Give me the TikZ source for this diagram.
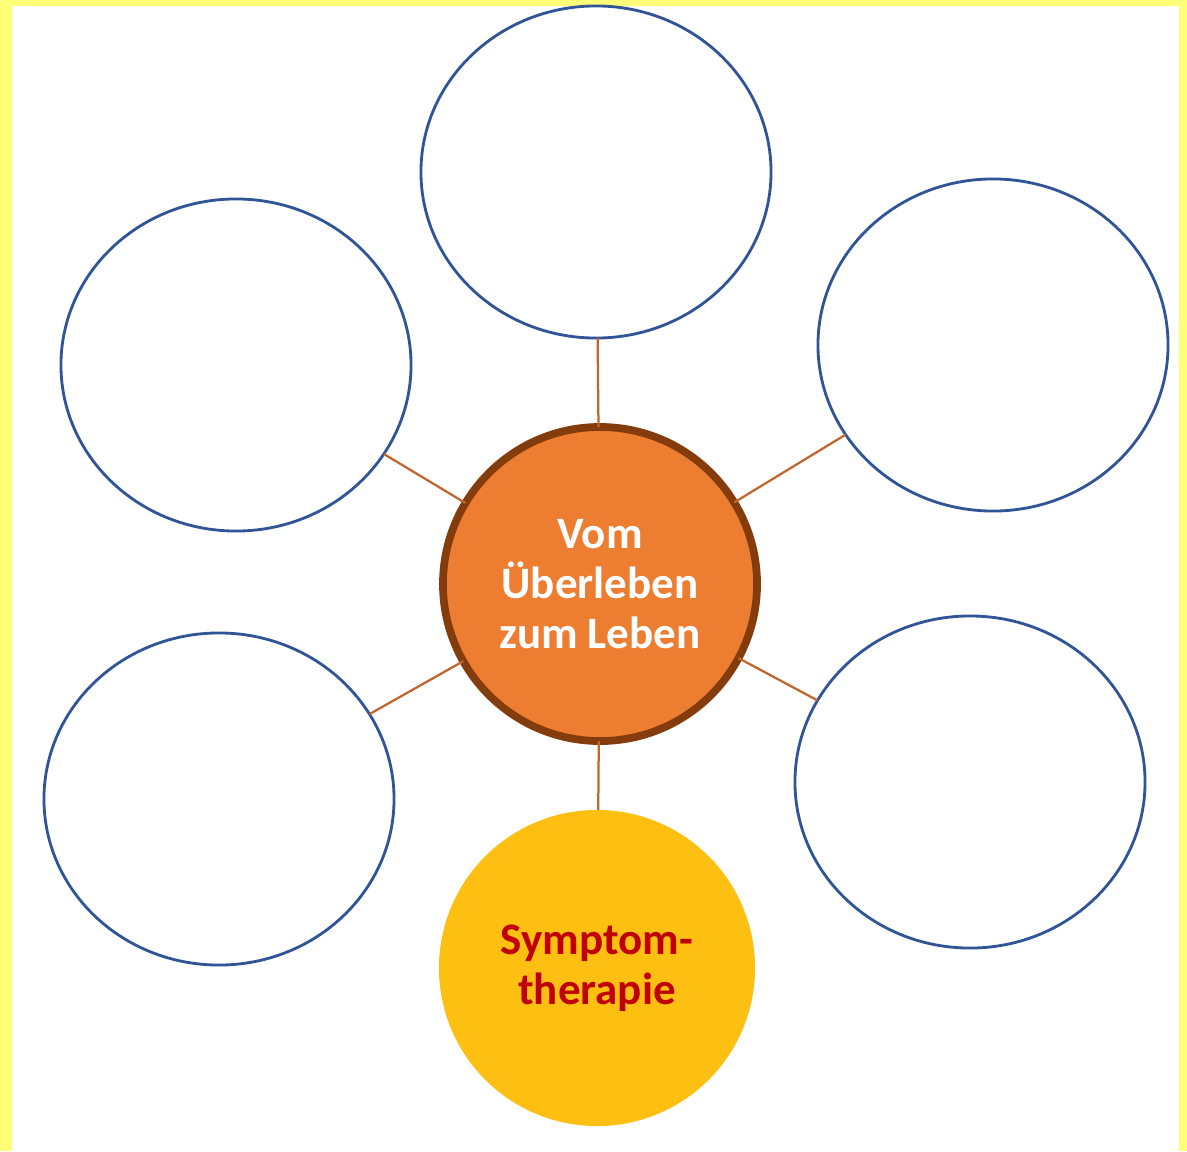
\documentclass[tikz,border=0pt]{standalone}
\usepackage{fontspec}
\setmainfont{Carlito}
\usetikzlibrary{shapes.geometric}
\definecolor{framey}{HTML}{FFFF77}
\definecolor{ringblue}{HTML}{2F5597}
\definecolor{hubfill}{HTML}{ED7D31}
\definecolor{hubedge}{HTML}{843C0C}
\definecolor{linkcol}{HTML}{C0662C}
\definecolor{goldfill}{HTML}{FDBF12}
\definecolor{textred}{HTML}{C00000}
\begin{document}
\begin{tikzpicture}[x=0.025cm,y=-0.025cm,
  bubble/.style={ellipse, draw=ringblue, line width=2pt, fill=white,
    minimum width=8.75cm, minimum height=8.3cm, inner sep=0pt, outer sep=0pt},
  hub/.style={circle, draw=hubedge, line width=5.5pt, fill=hubfill,
    minimum size=7.85cm, inner sep=0pt, outer sep=0pt, text=white,
    font=\fontsize{32}{35.6}\selectfont\bfseries, align=center},
  goal/.style={circle, fill=goldfill, minimum size=7.9cm, inner sep=0pt,
    outer sep=0pt, text=textred, font=\fontsize{32}{35.6}\selectfont\bfseries,
    align=center},
  link/.style={draw=linkcol, line width=1.6pt}]
  % frame
  \fill[framey] (0,0) rectangle (1187,1151);
  \fill[white] (12,6) rectangle (1179,1151);
  \useasboundingbox (0,0) rectangle (1187,1151);

  % nodes
  \node[hub] (hub) at (600,584) {Vom\\Überleben\\zum Leben};
  \node[bubble] (top) at (596,172) {};
  \node[bubble] (ul) at (236,365) {};
  \node[bubble] (ur) at (993,345) {};
  \node[bubble] (ll) at (219,799) {};
  \node[bubble] (lr) at (970,782) {};
  \node[goal] (sym) at (597,968) {Symptom-\\therapie};

  % connectors
  \foreach \t in {top,ul,ur,ll,lr,sym}
    \draw[link] (hub) -- (\t);
\end{tikzpicture}
\end{document}
